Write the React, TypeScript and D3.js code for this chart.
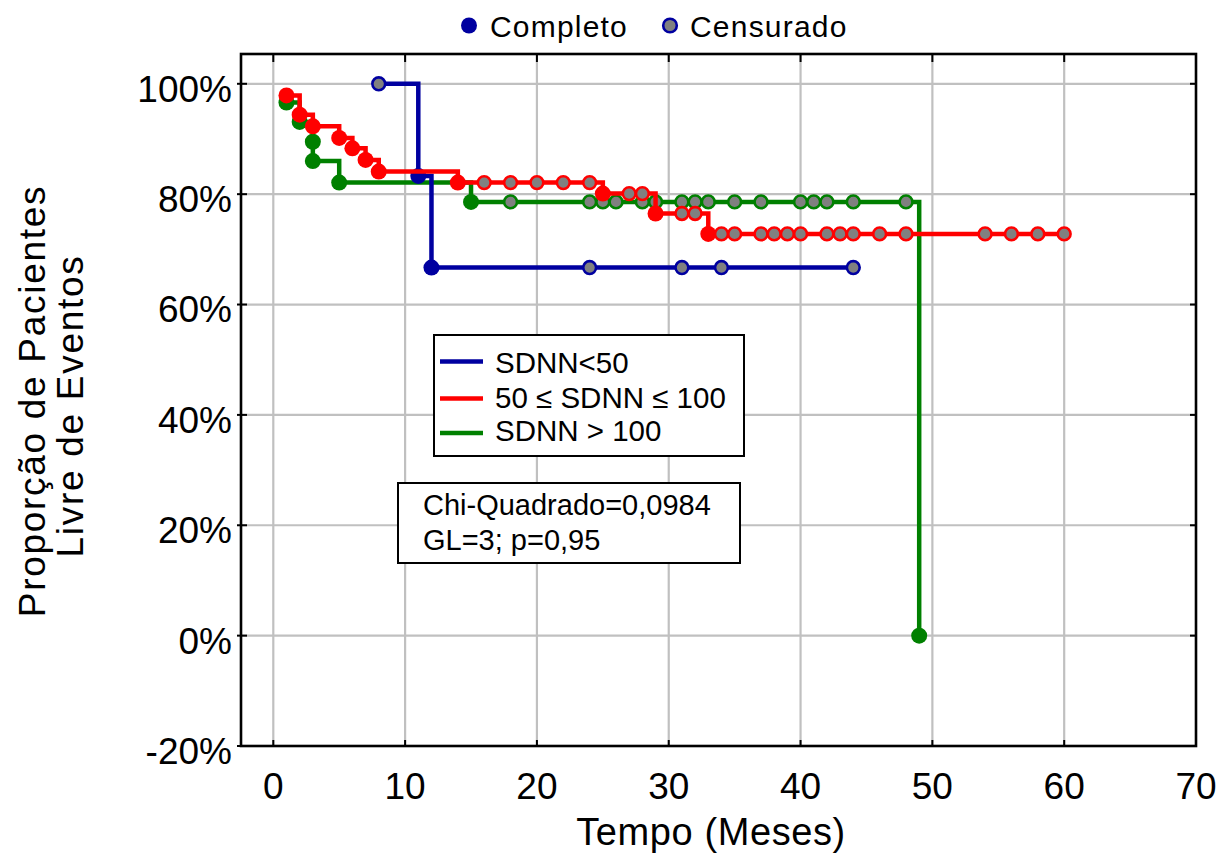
import React from 'react';
import * as d3 from 'd3';

const W = 1230;
const H = 858;
const FONT = "'Liberation Sans', Arial, Helvetica, sans-serif";

// Kaplan-Meier estimates per group: time (months), survival (%), censored flag
const blueTimes = [8, 11, 12, 24, 31, 34, 44];
const blueSurv = [100, 83.3, 66.7, 66.7, 66.7, 66.7, 66.7];
const blueCens = [1, 0, 0, 1, 1, 1, 1];

const redTimes = [1, 2, 3, 5, 6, 7, 8, 14, 16, 18, 20, 22, 24, 25, 27, 28, 29, 31, 32, 33,
  34, 35, 37, 38, 39, 40, 42, 43, 44, 46, 48, 54, 56, 58, 60];
const redSurv = [97.9, 94.4, 92.3, 90.2, 88.3, 86.2, 84.1, 82.1, 82.1, 82.1, 82.1, 82.1, 82.1,
  80.1, 80.1, 80.1, 76.5, 76.5, 76.5, 72.8,
  72.8, 72.8, 72.8, 72.8, 72.8, 72.8, 72.8, 72.8, 72.8, 72.8, 72.8, 72.8, 72.8, 72.8, 72.8];
const redCens = [0, 0, 0, 0, 0, 0, 0, 0, 1, 1, 1, 1, 1, 0, 1, 1, 0, 1, 1, 0,
  1, 1, 1, 1, 1, 1, 1, 1, 1, 1, 1, 1, 1, 1, 1];

const greenTimes = [1, 2, 3, 3, 5, 15, 18, 24, 25, 26, 28, 29, 31, 32, 33, 35, 37, 40, 41, 42, 44, 48, 49];
const greenSurv = [96.6, 93.1, 89.5, 86.0, 82.1, 78.6,
  78.6, 78.6, 78.6, 78.6, 78.6, 78.6, 78.6, 78.6, 78.6, 78.6, 78.6, 78.6, 78.6, 78.6, 78.6, 78.6, 0];
const greenCens = [0, 0, 0, 0, 0, 0, 1, 1, 1, 1, 1, 1, 1, 1, 1, 1, 1, 1, 1, 1, 1, 1, 0];

const groupNames = ['SDNN<50', '50 \u2264 SDNN \u2264 100', 'SDNN > 100'];
const groupColors = ['#0000a0', '#ff0000', '#008000'];

const xTicks = [0, 10, 20, 30, 40, 50, 60, 70];
const yTicks = [-20, 0, 20, 40, 60, 80, 100];

const statLines = ['Chi-Quadrado=0,0984', 'GL=3; p=0,95'];
const markerLegend = ['Completo', 'Censurado'];

type Pt = { t: number; s: number; c: boolean };
const build = (ts: number[], ss: number[], cs: number[]): Pt[] =>
  ts.map((t, i) => ({ t, s: ss[i], c: cs[i] === 1 }));

const groups = [
  build(blueTimes, blueSurv, blueCens),
  build(redTimes, redSurv, redCens),
  build(greenTimes, greenSurv, greenCens),
];

// drawing order: green underneath, then blue, red on top
const drawOrder = [2, 0, 1];

export default function App() {
  const left = 241, right = 1196, top = 54, bottom = 746;
  const x = d3.scaleLinear().domain([-2.45, 70]).range([left, right]);
  const y = d3.scaleLinear().domain([-20, 105.4]).range([bottom, top]);
  const line = d3.line<Pt>().x(d => x(d.t)).y(d => y(d.s)).curve(d3.curveStepAfter);
  const gray = '#808080';

  return (
    <svg width={W} height={H} style={{ display: 'block', position: 'absolute', left: 0, top: 0, background: '#fff' }}
      fontFamily={FONT}>
      <rect x={0} y={0} width={W} height={H} fill="#fff" />
      {/* grid */}
      {xTicks.filter(v => v < 70).map(v => (
        <line key={'gx' + v} x1={x(v)} x2={x(v)} y1={top} y2={bottom} stroke="#c0c0c0" strokeWidth={2.2} />
      ))}
      {yTicks.filter(v => v > -20).map(v => (
        <line key={'gy' + v} x1={left} x2={right} y1={y(v)} y2={y(v)} stroke="#c0c0c0" strokeWidth={2.2} />
      ))}
      {/* tick marks on all four sides */}
      {xTicks.map(v => (
        <g key={'tx' + v}>
          <line x1={x(v)} x2={x(v)} y1={bottom} y2={bottom - 6} stroke="#000" strokeWidth={2} />
          <line x1={x(v)} x2={x(v)} y1={top} y2={top + 8} stroke="#000" strokeWidth={2} />
        </g>
      ))}
      {yTicks.map(v => (
        <g key={'ty' + v}>
          <line x1={left - 4} x2={left + 6} y1={y(v)} y2={y(v)} stroke="#000" strokeWidth={2} />
          <line x1={right - 6} x2={right} y1={y(v)} y2={y(v)} stroke="#000" strokeWidth={2} />
        </g>
      ))}
      {/* curves */}
      {drawOrder.map(gi => {
        const pts = groups[gi];
        const col = groupColors[gi];
        return (
          <g key={'g' + gi}>
            <path d={line(pts) || ''} fill="none" stroke={col} strokeWidth={4.5} strokeLinejoin="miter" />
            {pts.map((p, i) => p.c ? (
              <circle key={i} cx={x(p.t)} cy={y(p.s)} r={6.4} fill={gray} stroke={col} strokeWidth={2.6} />
            ) : (
              <circle key={i} cx={x(p.t)} cy={y(p.s)} r={8} fill={col} />
            ))}
          </g>
        );
      })}
      {/* frame */}
      <rect x={left} y={top} width={right - left} height={bottom - top} fill="none" stroke="#000" strokeWidth={2.6} />
      {/* tick labels */}
      {yTicks.map(v => (
        <text key={'ly' + v} x={232} y={y(v) + 5} dy="0.35em" textAnchor="end" fontSize={37} fill="#000">
          {v + '%'}
        </text>
      ))}
      {xTicks.map(v => (
        <text key={'lx' + v} x={x(v)} y={799} textAnchor="middle" fontSize={37} fill="#000">{v}</text>
      ))}
      {/* axis titles */}
      <text x={711} y={845} textAnchor="middle" fontSize={38} letterSpacing={0.6} fill="#000">Tempo (Meses)</text>
      <text transform="translate(45,401) rotate(-90)" textAnchor="middle" fontSize={37} letterSpacing={1.7} fill="#000">
        Proporção de Pacientes
      </text>
      <text transform="translate(83,406) rotate(-90)" textAnchor="middle" fontSize={37} letterSpacing={1.7} fill="#000">
        Livre de Eventos
      </text>
      {/* marker legend */}
      <circle cx={469} cy={25.5} r={8} fill={groupColors[0]} />
      <text x={490} y={37} fontSize={30} letterSpacing={1.2} fill="#000">{markerLegend[0]}</text>
      <circle cx={670} cy={25.5} r={6.8} fill={gray} stroke={groupColors[0]} strokeWidth={2.6} />
      <text x={690} y={37} fontSize={30} letterSpacing={1.2} fill="#000">{markerLegend[1]}</text>
      {/* group legend */}
      <rect x={434} y={335} width={310} height={121} fill="#fff" stroke="#000" strokeWidth={2} />
      {groupNames.map((n, i) => {
        const ly = [361.5, 398.5, 433][i];
        const ty = [372.5, 407.5, 441][i];
        return (
          <g key={'lg' + i}>
            <line x1={440} x2={483} y1={ly} y2={ly} stroke={groupColors[i]} strokeWidth={4.5} />
            <text x={495} y={ty} fontSize={29.5} fill="#000">{n}</text>
          </g>
        );
      })}
      {/* test statistics */}
      <rect x={398} y={483} width={342} height={80} fill="#fff" stroke="#000" strokeWidth={2} />
      {statLines.map((s, i) => (
        <text key={'st' + i} x={423} y={[515, 550][i]} fontSize={29} fill="#000">{s}</text>
      ))}
    </svg>
  );
}
